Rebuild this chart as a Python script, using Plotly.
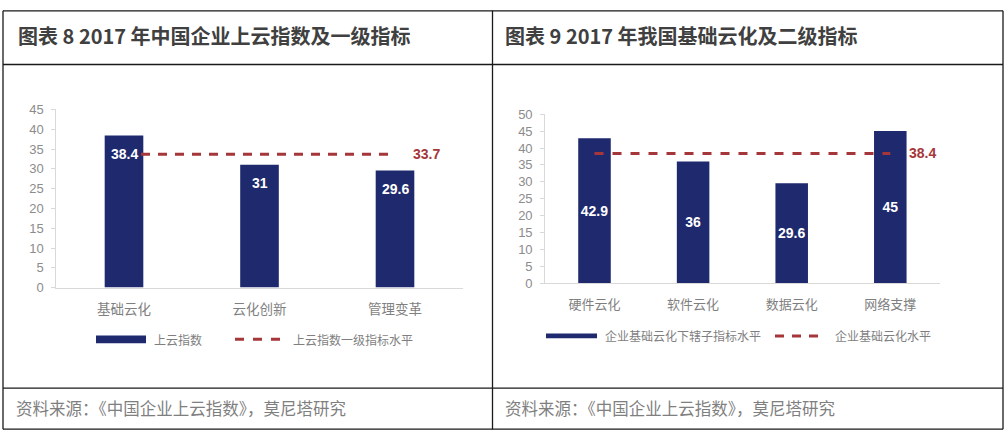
import plotly.graph_objects as go

# ---------------- data ----------------
left_title = "图表 8 2017 年中国企业上云指数及一级指标"
right_title = "图表 9 2017 年我国基础云化及二级指标"
source_text = "资料来源：《中国企业上云指数》，莫尼塔研究"

left_categories = ["基础云化", "云化创新", "管理变革"]
left_values = [38.4, 31, 29.6]
left_level = [33.7, 33.7, 33.7]
left_bar_name = "上云指数"
left_line_name = "上云指数一级指标水平"
left_yticks = [0, 5, 10, 15, 20, 25, 30, 35, 40, 45]

right_categories = ["硬件云化", "软件云化", "数据云化", "网络支撑"]
right_values = [42.9, 36, 29.6, 45]
right_level = [38.4, 38.4, 38.4, 38.4]
right_bar_name = "企业基础云化下辖子指标水平"
right_line_name = "企业基础云化水平"
right_yticks = [0, 5, 10, 15, 20, 25, 30, 35, 40, 45, 50]

# ---------------- style ----------------
W, H = 1006, 441
NAVY = "#1f2a6e"
RED = "#a5373a"
AXIS = "#d9d9d9"
TICK = "#8c8c8c"
CAT = "#7f7f7f"
CJK = "Noto Sans CJK SC"
NUM = "Liberation Sans"


def px(x):
    return x / W


def py(y):
    return 1 - y / H


fig = go.Figure()

# left chart
fig.add_trace(go.Bar(x=left_categories, y=left_values, marker=dict(color=NAVY, line=dict(width=0)),
                     width=0.285, xaxis="x", yaxis="y", showlegend=False, hoverinfo="skip"))
fig.add_trace(go.Scatter(x=left_categories, y=left_level, mode="lines",
                         line=dict(color=RED, width=3, dash="9px,8px"),
                         xaxis="x", yaxis="y", showlegend=False, hoverinfo="skip"))

# right chart
fig.add_trace(go.Bar(x=right_categories, y=right_values, marker=dict(color=NAVY, line=dict(width=0)),
                     width=0.33, xaxis="x2", yaxis="y2", showlegend=False, hoverinfo="skip",
                     text=[f"{v:g}" for v in right_values], textposition="inside",
                     insidetextanchor="middle", constraintext="none", textangle=0,
                     textfont=dict(color="white", size=14, family=NUM, weight="bold")))
fig.add_trace(go.Scatter(x=right_categories, y=right_level, mode="lines",
                         line=dict(color=RED, width=3, dash="9px,9px"),
                         xaxis="x2", yaxis="y2", showlegend=False, hoverinfo="skip"))

common_y = dict(showline=True, linecolor=AXIS, linewidth=1, ticks="outside", ticklen=4,
                tickcolor=AXIS, tickfont=dict(family=NUM, size=13, color=TICK),
                showgrid=False, zeroline=False, ticklabelstandoff=5)
common_x = dict(showline=True, linecolor=AXIS, linewidth=1, ticks="", showgrid=False,
                zeroline=False, tickfont=dict(family=CJK, size=13.5, color=CAT),
                ticklabelstandoff=9)

fig.update_layout(
    width=W, height=H, autosize=False,
    margin=dict(l=0, r=0, t=0, b=0),
    paper_bgcolor="white", plot_bgcolor="white",
    showlegend=False,
    xaxis=dict(domain=[px(56.25), px(462.75)], anchor="y", **common_x),
    yaxis=dict(domain=[py(290.5), py(106)], anchor="x", range=[0, 45],
               tickvals=left_yticks, **common_y),
    xaxis2=dict(domain=[px(545.2), px(939.6)], anchor="y2",
                **{**common_x, "tickfont": dict(family=CJK, size=13, color=CAT)}),
    yaxis2=dict(domain=[py(286), py(111)], anchor="x2", range=[0, 50],
                tickvals=right_yticks, **common_y),
)

annotations = []
# left bar value labels (inside near top)
for c, v in zip(left_categories, left_values):
    annotations.append(dict(x=c, y=v, xref="x", yref="y", text=f"<b>{v:g}</b>", showarrow=False,
                            yshift=-18.5, yanchor="middle", xanchor="center",
                            bgcolor=NAVY, borderpad=0,
                            font=dict(family=NUM, size=14, color="white")))
# level line labels
annotations.append(dict(x=left_categories[-1], y=left_level[-1], xref="x", yref="y",
                        text=f"<b>{left_level[-1]:g}</b>", showarrow=False, xanchor="left",
                        xshift=16, yanchor="middle",
                        font=dict(family=NUM, size=14, color=RED)))
annotations.append(dict(x=right_categories[-1], y=right_level[-1], xref="x2", yref="y2",
                        text=f"<b>{right_level[-1]:g}</b>", showarrow=False, xanchor="left",
                        xshift=17, yanchor="middle",
                        font=dict(family=NUM, size=14, color=RED)))

# titles
for x0, t in [(16, left_title), (503, right_title)]:
    annotations.append(dict(x=px(x0), y=py(30), xref="paper", yref="paper", text=f"<b>{t}</b>",
                            showarrow=False, xanchor="left", yanchor="middle",
                            font=dict(family=CJK, size=20, color="#404040")))
# footers
for x0 in (14, 503):
    annotations.append(dict(x=px(x0), y=py(415), xref="paper", yref="paper", text=source_text,
                            showarrow=False, xanchor="left", yanchor="middle",
                            font=dict(family=CJK, size=16.5, color="#7f7f7f")))

# legend texts
for x0, y0, t in [(152, 344, left_bar_name), (291, 344, left_line_name),
                  (603, 340, right_bar_name), (833, 340, right_line_name)]:
    annotations.append(dict(x=px(x0), y=py(y0), xref="paper", yref="paper", text=t,
                            showarrow=False, xanchor="left", yanchor="middle",
                            font=dict(family=CJK, size=12, color=CAT)))

shapes = []
line_style = dict(color="#1a1a1a", width=1.3)
# frame
for (x0, y0, x1, y1) in [(3, 4, 1003, 4), (3, 59.5, 1003, 59.5), (3, 394.5, 1003, 394.5),
                         (3, 437, 1003, 437), (3, 4, 3, 437), (492.5, 4, 492.5, 437),
                         (1003, 4, 1003, 437)]:
    shapes.append(dict(type="line", xref="paper", yref="paper", x0=px(x0), y0=py(y0),
                       x1=px(x1), y1=py(y1), line=line_style))
# legend symbols
shapes.append(dict(type="rect", xref="paper", yref="paper", x0=px(96), x1=px(146),
                   y0=py(340), y1=py(348), fillcolor=NAVY, line=dict(width=0)))
shapes.append(dict(type="line", xref="paper", yref="paper", x0=px(235), x1=px(281),
                   y0=py(344), y1=py(344), line=dict(color=RED, width=3, dash="9px,9px")))
shapes.append(dict(type="rect", xref="paper", yref="paper", x0=px(546), x1=px(597),
                   y0=py(338), y1=py(343), fillcolor=NAVY, line=dict(width=0)))
shapes.append(dict(type="line", xref="paper", yref="paper", x0=px(775), x1=px(818),
                   y0=py(340.5), y1=py(340.5), line=dict(color=RED, width=3, dash="9px,8px")))

fig.update_layout(annotations=annotations, shapes=shapes)

fig.write_html("out.html", config={"displayModeBar": False},
               post_script="document.body.style.margin='0';document.body.style.overflow='hidden';")
